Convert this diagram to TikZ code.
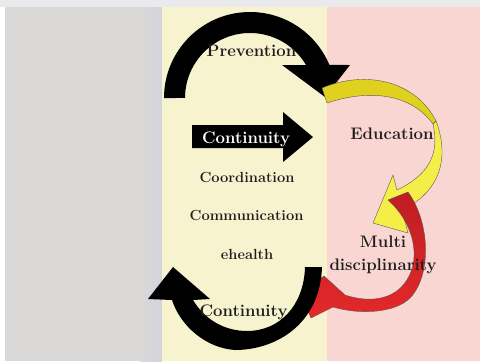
\documentclass[tikz,border=0pt]{standalone}
\usepackage{tikz}
\usetikzlibrary{calc}
\definecolor{stripGray}{HTML}{EAEAEC}
\definecolor{panelGray}{HTML}{DAD9D8}
\definecolor{panelLilac}{HTML}{D3D3DC}
\definecolor{panelCream}{HTML}{F8F3CF}
\definecolor{panelPink}{HTML}{FAD6D3}
\definecolor{ribbonMustard}{HTML}{E0D11F}
\definecolor{ribbonYellow}{HTML}{F6EE48}
\definecolor{ribbonRedDark}{HTML}{BE1E22}
\definecolor{ribbonRed}{HTML}{E4282A}
\definecolor{inkDark}{HTML}{1E1E1E}
\tikzset{
  bigLbl/.style={font=\fontsize{16.8}{23.3}\selectfont\bfseries, text=inkDark, anchor=base, inner sep=0pt, align=center},
  smallLbl/.style={bigLbl, font=\fontsize{14.7}{17}\selectfont\bfseries},
  ribbon/.style={draw=black!65, line width=0.4bp},
}

\begin{document}
\begin{tikzpicture}[x=1bp, y=-1bp]
	\useasboundingbox (0,0) rectangle (480,361);
	% background panels
	\fill[white] (0,0) rectangle (480,361);
	\fill[stripGray] (0,0) rectangle (480,7);
	\fill[panelGray] (5,7) rectangle (162,361);
	\shade[left color=panelGray, right color=panelLilac] (140,7) rectangle (162,361);
	\fill[panelCream] (162,7) rectangle (327,361);
	\fill[panelPink] (327,7) rectangle (480,361);

	\coordinate (topC) at (250,98);
	% prevention arrow
	\fill[black] (164,98) arc[start angle=180, end angle=337.4, radius=86]
		-- (350,65) -- (325,97) -- (282,65) -- (306,65)
		arc[start angle=329.5, end angle=180, radius=65] -- cycle;

	% education ribbon
	\path[ribbon, fill=ribbonMustard] (327,103) -- (322,88)
		.. controls (365,70) and (415,80) .. (436,121)
		-- (433,124) .. controls (412,95) and (372,88) .. (327,103) -- cycle;
	\path[ribbon, fill=ribbonYellow] (436,121)
		.. controls (450,158) and (440,192) .. (402,210)
		-- (408,233) -- (373,223) -- (393,175) -- (397,190)
		.. controls (428,175) and (440,155) .. (433,124) -- cycle;

	% multidisciplinarity ribbon
	\path[ribbon, top color=ribbonRedDark, bottom color=ribbonRed] (388,200) -- (408,192)
		.. controls (430,222) and (432,275) .. (410,298)
		.. controls (395,313) and (360,315) .. (333,307)
		-- (311,318) -- (300,293) -- (324,276) -- (345,295)
		.. controls (375,305) and (405,298) .. (413,265)
		.. controls (418,240) and (405,215) .. (388,200) -- cycle;

	% continuity arrow (bottom)
	\fill[black] (322,267) .. controls (320,325) and (275,350) .. (235,350)
		.. controls (205,348) and (180,325) .. (172,300)
		-- (148,299) -- (173,267) -- (210,299) -- (193,300)
		.. controls (205,320) and (225,331) .. (247,331)
		.. controls (280,331) and (304,305) .. (305,267) -- cycle;

	% continuity block arrow
	\fill[black] (192,125) -- (283,125) -- (283,112) -- (313,137)
		-- (283,162) -- (283,148) -- (192,148) -- cycle;

	\node[bigLbl] (prev) at (251.5,56.7) {Prevention};
	\node[bigLbl, text=white] (contTop) at (246,143.3) {Continuity};
	\node[bigLbl] (edu) at (392,139) {Education};
	\node[smallLbl] (coord) at (247,182.7) {Coordination};
	\node[smallLbl] (comm) at (246.5,220.7) {Communication};
	\node[smallLbl] (ehealth) at (247,259.3) {ehealth};
	\node[bigLbl] (multi) at (383,270.7) {Multi\\disciplinarity};
	\node[bigLbl] (contBot) at (243.5,316.7) {Continuity};

\end{tikzpicture}
\end{document}
